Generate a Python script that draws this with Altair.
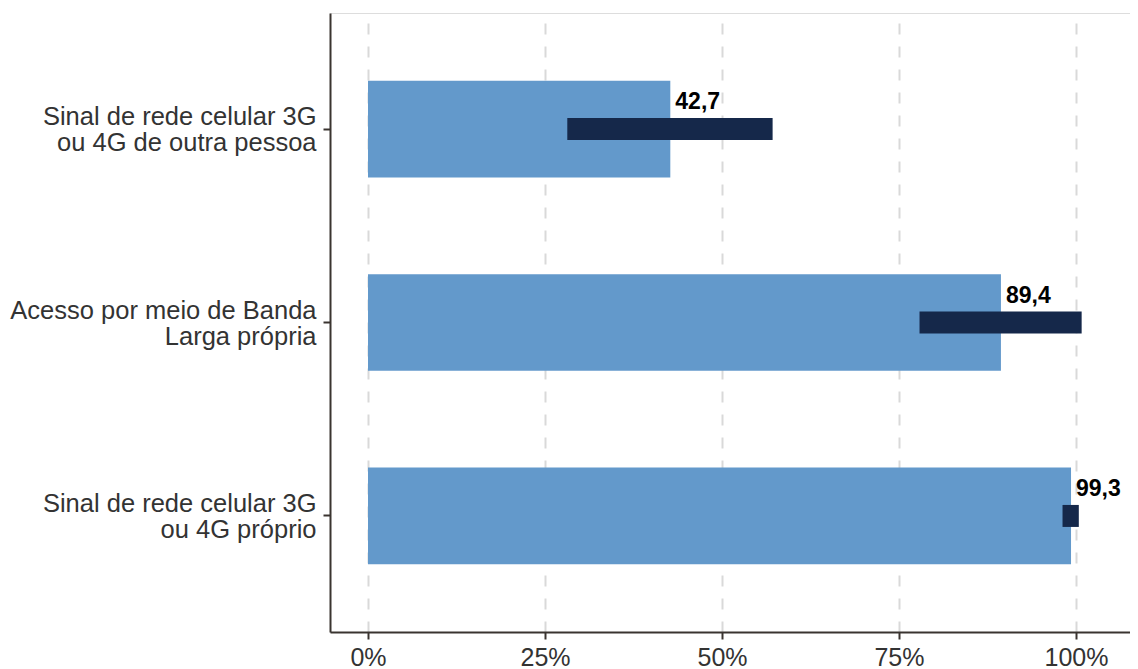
import altair as alt
import pandas as pd

categories = [
    "Sinal de rede celular 3G|ou 4G de outra pessoa",
    "Acesso por meio de Banda|Larga própria",
    "Sinal de rede celular 3G|ou 4G próprio",
]
values = [42.7, 89.4, 99.3]
labels = ["42,7", "89,4", "99,3"]
err_low = [28.15, 77.9, 98.1]
err_high = [57.15, 100.8, 100.4]
x_ticks = [0, 25, 50, 75, 100]

df = pd.DataFrame({
    "cat": categories,
    "value": values,
    "label": labels,
    "lo": err_low,
    "hi": err_high,
})

FONT = "Liberation Sans"
AXIS_COLOR = "#3a3430"

y_enc = alt.Y(
    "cat:N",
    sort=categories,
    title=None,
    scale=alt.Scale(paddingInner=0.5, paddingOuter=0.35),
    axis=alt.Axis(
        labelExpr="split(datum.label, '|')",
        labelFontSize=25.5,
        labelLineHeight=26,
        labelOffset=-12,
        labelColor="#333333",
        labelFont=FONT,
        labelLimit=400,
        labelPadding=7,
        tickSize=7,
        tickWidth=2,
        tickColor=AXIS_COLOR,
        domainColor=AXIS_COLOR,
        domainWidth=2,
        grid=False,
    ),
)

x_scale = alt.Scale(domain=[-5.367, 107.63], nice=False, zero=False)

bars = alt.Chart(df).mark_bar(color="#6399CB").encode(
    x=alt.X(
        "value:Q",
        scale=x_scale,
        title=None,
        axis=alt.Axis(
            values=x_ticks,
            labelExpr="datum.value + '%'",
            labelFontSize=25,
            labelColor="#333333",
            labelFont=FONT,
            labelPadding=6,
            tickSize=7,
            tickWidth=2,
            tickColor=AXIS_COLOR,
            domainColor=AXIS_COLOR,
            domainWidth=2,
            grid=True,
            gridDash=[11, 12],
            gridColor="#d9d9d9",
            gridWidth=2,
        ),
    ),
    x2=alt.X2(datum=0),
    y=y_enc,
)

errs = alt.Chart(df).mark_bar(color="#15284A", height=22).encode(
    x=alt.X("lo:Q", scale=x_scale),
    x2="hi:Q",
    y=alt.Y("cat:N", sort=categories),
)

texts = alt.Chart(df).mark_text(
    align="left", baseline="middle", dx=5, dy=-27,
    fontSize=23, fontWeight="bold", font=FONT, color="#000000",
).encode(
    x=alt.X("value:Q", scale=x_scale),
    y=alt.Y("cat:N", sort=categories),
    text="label:N",
)

chart = alt.layer(bars, errs, texts).properties(
    width=800,
    height=619,
    autosize=alt.AutoSizeParams(type="none"),
    padding={"left": 322, "top": 5, "right": 0, "bottom": 37},
).configure_view(stroke=None).configure(background="white")

chart.save("out.html", embed_options={"renderer": "svg", "actions": False})
